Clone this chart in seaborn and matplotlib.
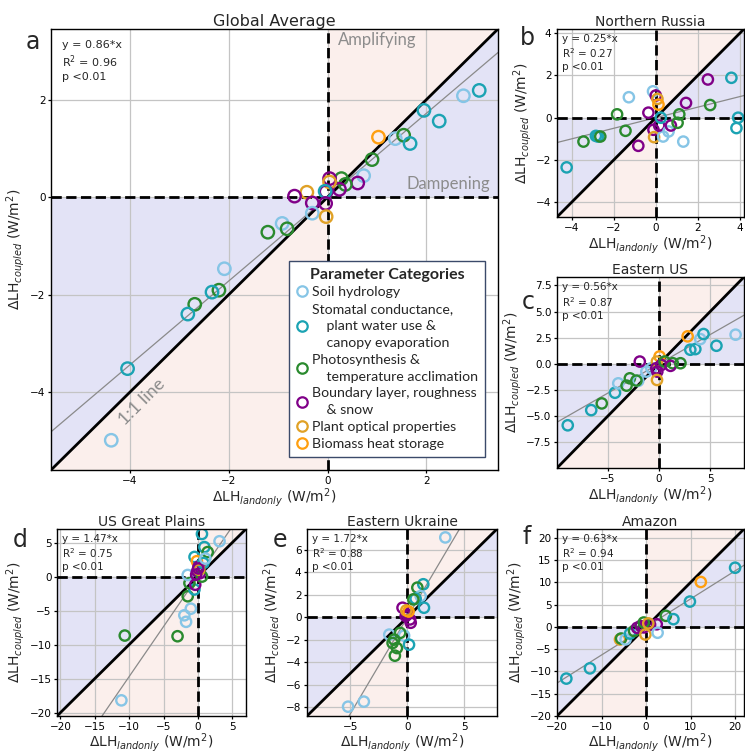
import numpy as np
import pandas as pd
import matplotlib
matplotlib.use("Agg")
import matplotlib.pyplot as plt
import seaborn as sns
from matplotlib.lines import Line2D

# ---------------- parameter categories ----------------
cat_keys = ["soil", "stom", "phot", "bl", "opt", "bio"]
cat_labels = [
    "Soil hydrology",
    "Stomatal conductance,\n    plant water use &\n    canopy evaporation",
    "Photosynthesis &\n    temperature acclimation",
    "Boundary layer, roughness\n    & snow",
    "Plant optical properties",
    "Biomass heat storage",
]
cat_colors = ["#86C5E6", "#1BA3B3", "#2A8A2E", "#800088", "#E0A126", "#FF9F0F"]

# ---------------- Global average ----------------
glob_x = [3.07, 2.75, 1.95, 2.26, 1.03, 1.37, 1.54, 1.67, 0.90, 0.73, 0.61, 0.28, 0.36, 0.24,
          0.04, 0.04, -0.03, -0.05, -0.42, -0.67, -0.31, -0.04, -0.31, -0.03, -0.92, -0.82,
          -1.21, -2.09, -2.20, -2.34, -2.69, -2.83, -4.05, -4.38]
glob_y = [2.19, 2.08, 1.78, 1.56, 1.23, 1.20, 1.27, 1.10, 0.77, 0.44, 0.29, 0.38, 0.26, 0.16,
          0.38, 0.31, 0.11, 0.12, 0.10, 0.02, -0.12, -0.13, -0.33, -0.40, -0.54, -0.65,
          -0.72, -1.47, -1.91, -1.95, -2.20, -2.40, -3.52, -4.99]
glob_c = ["stom", "soil", "stom", "stom", "bio", "soil", "phot", "stom", "phot", "soil", "bl",
          "phot", "phot", "bl", "bl", "opt", "bl", "stom", "opt", "bl", "bl", "bl", "soil",
          "opt", "soil", "phot", "phot", "soil", "phot", "stom", "phot", "stom", "stom", "soil"]

# ---------------- Northern Russia ----------------
nr_x = [-4.24, -3.44, -2.85, -2.75, -2.64, -1.84, -1.28, -1.44, -0.83, -0.35, -0.13, 0.0, 0.08,
        0.13, -0.11, -0.08, 0.35, 0.16, 0.24, 0.61, 0.72, 1.04, 1.12, 1.44, 1.31, 2.48, 2.59,
        3.60, 3.92, 3.84]
nr_y = [-2.35, -1.13, -0.86, -0.89, -0.89, 0.16, 0.97, -0.62, -1.33, 0.24, 1.25, 1.05, 0.89,
        0.62, -0.57, -0.92, -0.89, -0.37, 0.0, -0.65, -0.37, -0.24, 0.16, 0.70, -1.13, 1.81,
        0.60, 1.89, 0.0, -0.49]
nr_c = ["stom", "phot", "stom", "stom", "phot", "phot", "soil", "phot", "bl", "bl", "soil", "bl",
        "opt", "bio", "bl", "opt", "soil", "bl", "stom", "soil", "bl", "phot", "phot", "bl",
        "soil", "bl", "phot", "stom", "stom", "stom"]

# ---------------- Eastern US ----------------
eu_x = [-8.9, -6.61, -5.58, -4.29, -3.97, -3.16, -2.84, -2.03, -2.2, -1.23, -0.74, -1.87, 0.06,
        -0.2, -0.26, 0.23, -0.16, 0.55, 1.35, -0.19, 1.13, 2.1, 2.8, 3.06, 3.55, 4.03, 4.35,
        5.61, 7.48]
eu_y = [-5.87, -4.42, -3.78, -2.76, -1.86, -2.08, -1.38, -1.63, -1.6, -0.74, -0.42, 0.22, 0.71,
        0.22, -0.42, -0.1, -0.74, 0.22, 0.06, -1.54, -0.19, 0.06, 2.63, 1.35, 1.41, 2.37, 2.85,
        1.73, 2.79]
eu_c = ["stom", "stom", "phot", "stom", "soil", "phot", "phot", "soil", "phot", "soil", "soil",
        "bl", "bio", "opt", "bl", "bl", "bl", "phot", "phot", "opt", "bl", "phot", "bio", "stom",
        "stom", "soil", "stom", "stom", "soil"]

# ---------------- US Great Plains ----------------
gp_x = [-11.13, -10.64, -2.96, -1.72, -1.97, -1.03, -1.48, -0.5, -1.23, -1.48, -0.49, -0.15,
        0.1, -0.1, -0.39, 0.3, 0.59, 0.94, 1.43, 3.15, 0.6, 0.8, 0.2, 0.05, -0.25, 1.08]
gp_y = [-18.2, -8.67, -8.77, -6.65, -5.69, -4.72, -2.89, -1.9, -0.96, 0.24, 2.89, 2.27, 1.45,
        0.8, -1.2, 0.5, 6.27, 4.34, 3.61, 5.2, 0.0, 2.0, 1.0, 1.2, 0.3, 2.65]
gp_c = ["soil", "phot", "phot", "soil", "soil", "soil", "phot", "stom", "phot", "soil", "stom",
        "bio", "bl", "bl", "bl", "bl", "stom", "stom", "phot", "soil", "phot", "stom", "opt",
        "bl", "bl", "soil"]

# ---------------- Eastern Ukraine ----------------
ua_x = [-5.2, -3.82, 3.32, 1.39, 0.87, 1.16, 0.72, 0.52, 1.45, -0.43, 0.0, 0.23, -0.15, 0.29,
        -1.59, -0.29, 0.14, -1.16, -1.3, -0.92, -1.1, -0.64, -0.1, 0.1]
ua_y = [-7.97, -7.52, 7.1, 2.93, 2.63, 1.88, 1.64, 1.58, 0.84, 0.84, 0.24, -0.2, 0.1, -0.5,
        -1.55, -1.64, -2.45, -2.0, -2.3, -2.75, -3.43, -1.4, 0.6, 0.5]
ua_c = ["soil", "soil", "soil", "stom", "phot", "soil", "stom", "phot", "stom", "bl", "bl", "bl",
        "bl", "bl", "soil", "soil", "stom", "phot", "phot", "phot", "phot", "phot", "opt", "bio"]

# ---------------- Amazon ----------------
am_x = [-17.9, -12.6, -5.85, -5.6, -4.6, -3.6, -2.7, -2.0, -1.2, -0.5, 0.9, 2.4, -0.5, -0.15,
        2.6, 4.44, 6.15, 9.85, 12.3, 20.0, 0.5]
am_y = [-11.6, -9.3, -2.81, -2.6, -2.8, -1.5, -0.9, -0.2, 0.2, -0.1, 0.5, 0.6, 1.0, -1.7, -1.3,
        2.5, 1.75, 5.7, 10.1, 13.3, 0.8]
am_c = ["stom", "stom", "opt", "phot", "soil", "stom", "phot", "bl", "bl", "bl", "bl", "bl",
        "phot", "opt", "soil", "phot", "stom", "stom", "bio", "stom", "opt"]

# regression slopes and R^2 per region
region_titles = ["Global Average", "Northern Russia", "Eastern US",
                 "US Great Plains", "Eastern Ukraine", "Amazon"]
slopes = [0.86, 0.25, 0.56, 1.47, 1.72, 0.63]
r2_vals = [0.96, 0.27, 0.87, 0.75, 0.88, 0.94]

BLUE_FILL = "#E3E3F6"
PINK_FILL = "#FBEFEC"

sns.set_style("ticks", {"axes.grid": True, "grid.color": "#c4c4c4",
                        "axes.edgecolor": "black", "xtick.color": "black",
                        "ytick.color": "black"})
plt.rcParams["font.family"] = ["DejaVu Sans"]
plt.rcParams["grid.linewidth"] = 0.9
plt.rcParams["axes.linewidth"] = 1.0

W, H = 745, 753
fig = plt.figure(figsize=(W / 100, H / 100), dpi=100)


def px_axes(box):
    x0, y0, x1, y1 = box
    return fig.add_axes([x0 / W, 1 - y1 / H, (x1 - x0) / W, (y1 - y0) / H])


palette = dict(zip(cat_keys, cat_colors))


def draw_panel(box, x, y, c, lim, slope, r2, title, xticks, yticks,
               msize=55, title_size=10, stat_size=7.5, ylabelpad=1.4, xlabelpad=0.5,
               yfmt=None):
    ax = px_axes(box)
    lo, hi = lim
    # amplifying / dampening shading
    ax.fill([lo, 0, lo], [lo, 0, 0], color=BLUE_FILL, lw=0, zorder=0.2)
    ax.fill([lo, 0, 0], [lo, 0, lo], color=PINK_FILL, lw=0, zorder=0.2)
    ax.fill([0, hi, 0], [0, hi, hi], color=PINK_FILL, lw=0, zorder=0.2)
    ax.fill([0, hi, hi], [0, hi, 0], color=BLUE_FILL, lw=0, zorder=0.2)
    ax.set_axisbelow(True)

    ax.axhline(0, color="black", ls="--", lw=2, zorder=3)
    ax.axvline(0, color="black", ls="--", lw=2, zorder=3)
    ax.plot([lo, hi], [lo, hi], color="black", lw=2, zorder=3)
    xx = np.array([lo, hi])
    ax.plot(xx, slope * xx, color="#8a8a8a", lw=0.9, zorder=2)

    df = pd.DataFrame({"x": x, "y": y, "cat": c})
    sns.scatterplot(data=df, x="x", y="y", hue="cat", hue_order=cat_keys,
                    palette=palette, ax=ax, legend=False, s=msize, zorder=4)
    coll = ax.collections[-1]
    coll.set_edgecolors(coll.get_facecolors())
    coll.set_facecolors("none")
    coll.set_linewidth(1.7)

    ax.set_xlim(lo, hi)
    ax.set_ylim(lo, hi)
    ax.set_xticks(xticks)
    ax.set_yticks(yticks)
    if yfmt:
        ax.set_yticklabels([yfmt.format(v).replace("-", "\u2212") for v in yticks])
    ax.tick_params(labelsize=7.5, length=2.5, width=0.9, pad=1.5)
    ax.set_title(title, fontsize=title_size, pad=2.5)
    ax.set_xlabel("\u0394LH$_{landonly}$ (W/m$^2$)", fontsize=10, labelpad=xlabelpad)
    ax.set_ylabel("\u0394LH$_{coupled}$ (W/m$^2$)", fontsize=10, labelpad=ylabelpad)
    ax.text(0.025, 0.975, f"y = {slope:.2f}*x\nR$^2$ = {r2:.2f}\np <0.01",
            transform=ax.transAxes, ha="left", va="top", fontsize=stat_size,
            linespacing=1.25, zorder=6)
    for sp in ax.spines.values():
        sp.set_zorder(7)
    return ax


# ---------------- panel a ----------------
ax_a = draw_panel((51, 29, 498, 470), glob_x, glob_y, glob_c, (-5.6, 3.45), slopes[0],
                  r2_vals[0], region_titles[0], [-4, -2, 0, 2], [-4, -2, 0, 2],
                  msize=80, title_size=11.5, stat_size=8, ylabelpad=2.5)
ax_a.text(0.2, 3.38, "Amplifying", family=["Lato", "DejaVu Sans"], fontsize=12,
          color="#8c8c8c", ha="left", va="top", zorder=5)
ax_a.text(3.3, 0.1, "Dampening", family=["Lato", "DejaVu Sans"], fontsize=12,
          color="#8c8c8c", ha="right", va="bottom", zorder=5)
ax_a.text(-3.75, -4.2, "1:1 line", family=["Lato", "DejaVu Sans"], fontsize=13,
          color="#8c8c8c", rotation=45, ha="center", va="center",
          rotation_mode="anchor", zorder=5)

handles = [Line2D([0], [0], marker="o", ls="", markerfacecolor="none",
                  markeredgecolor=col, markersize=7.5, markeredgewidth=1.6)
           for col in cat_colors]
leg = ax_a.legend(handles, cat_labels, title="Parameter Categories",
                  loc="lower right", bbox_to_anchor=(0.972, 0.03), borderaxespad=0,
                  prop={"family": ["Lato", "DejaVu Sans"], "size": 10.2},
                  title_fontproperties={"family": ["Lato", "DejaVu Sans"],
                                        "weight": "bold", "size": 11.5},
                  frameon=True, fancybox=False, framealpha=1, edgecolor="#3b4a6a",
                  handlelength=0.8, handletextpad=0.35, labelspacing=0.33,
                  borderpad=0.5)
for t in leg.get_texts():
    t.set_linespacing(1.5)
leg.get_frame().set_linewidth(1.0)
leg.set_zorder(10)

# ---------------- panel b ----------------
draw_panel((557, 29, 744, 217), nr_x, nr_y, nr_c, (-4.7, 4.2), slopes[1], r2_vals[1],
           region_titles[1], [-4, -2, 0, 2, 4], [-4, -2, 0, 2, 4])

# ---------------- panel c ----------------
draw_panel((557, 277, 744, 468), eu_x, eu_y, eu_c, (-9.95, 8.3), slopes[2], r2_vals[2],
           region_titles[2], [-5, 0, 5], [-7.5, -5, -2.5, 0, 2.5, 5, 7.5], yfmt="{:.1f}")

# ---------------- panel d ----------------
draw_panel((57, 529, 246, 716), gp_x, gp_y, gp_c, (-20.5, 7.0), slopes[3], r2_vals[3],
           region_titles[3], [-20, -15, -10, -5, 0, 5], [-20, -15, -10, -5, 0, 5],
           xlabelpad=-0.5)

# ---------------- panel e ----------------
draw_panel((307, 529, 497, 716), ua_x, ua_y, ua_c, (-8.8, 7.85), slopes[4], r2_vals[4],
           region_titles[4], [-5, 0, 5], [-8, -6, -4, -2, 0, 2, 4, 6], xlabelpad=-0.5)

# ---------------- panel f ----------------
draw_panel((557, 529, 744, 716), am_x, am_y, am_c, (-20, 22), slopes[5], r2_vals[5],
           region_titles[5], [-20, -10, 0, 10, 20], [-20, -15, -10, -5, 0, 5, 10, 15, 20],
           xlabelpad=-0.5)

# panel letters
for letter, (lx, ly) in zip("abcdef", [(33, 42), (527, 38), (528, 302),
                                       (20, 540), (280, 540), (527, 537)]):
    fig.text(lx / W, 1 - ly / H, letter, fontsize=17, ha="center", va="center")

fig.savefig("out.png", dpi=100)
